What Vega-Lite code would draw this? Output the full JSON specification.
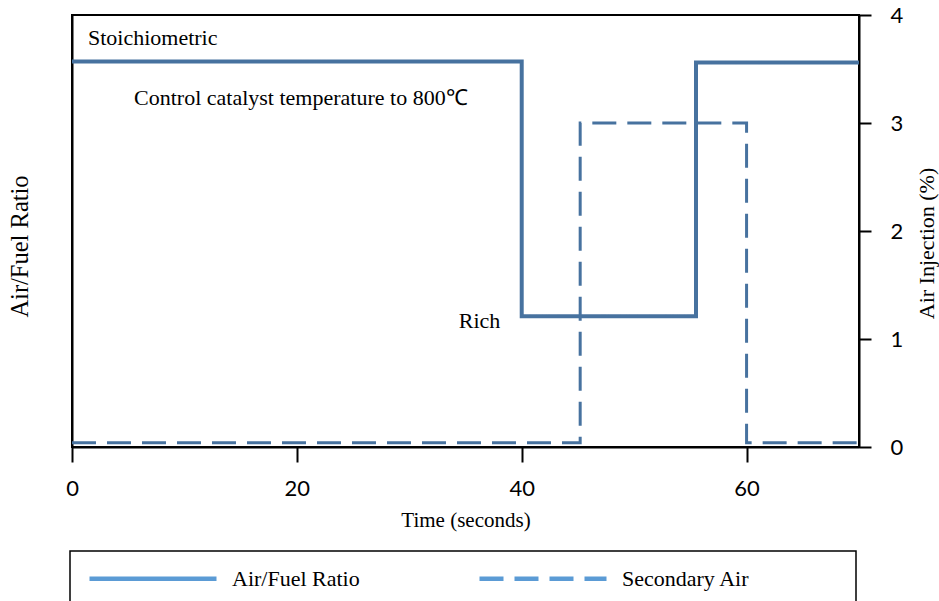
{
  "$schema": "https://vega.github.io/schema/vega-lite/v6.json",
  "width": 787,
  "height": 432,
  "autosize": {"type": "none"},
  "padding": {"left": 72, "top": 15, "right": 80, "bottom": 154},
  "background": "white",
  "config": {
    "view": {"stroke": "black", "strokeWidth": 2},
    "axis": {"domainColor": "black", "domainWidth": 2, "tickColor": "black", "tickWidth": 2, "grid": false, "labelColor": "black", "titleColor": "black", "titleFontWeight": "normal", "labelFlush": false},
    "legend": {"strokeWidth": 1.5}
  },
  "datasets": {
    "series": [
      {"series": "Air/Fuel Ratio", "i": 0, "t": 0, "v": 3.57},
      {"series": "Air/Fuel Ratio", "i": 1, "t": 40, "v": 3.57},
      {"series": "Air/Fuel Ratio", "i": 2, "t": 40, "v": 1.21},
      {"series": "Air/Fuel Ratio", "i": 3, "t": 55.5, "v": 1.21},
      {"series": "Air/Fuel Ratio", "i": 4, "t": 55.5, "v": 3.56},
      {"series": "Air/Fuel Ratio", "i": 5, "t": 70, "v": 3.56},
      {"series": "Secondary Air", "i": 0, "t": 0, "v": 0.04},
      {"series": "Secondary Air", "i": 1, "t": 45.2, "v": 0.04},
      {"series": "Secondary Air", "i": 2, "t": 45.2, "v": 3.0},
      {"series": "Secondary Air", "i": 3, "t": 60, "v": 3.0},
      {"series": "Secondary Air", "i": 4, "t": 60, "v": 0.04},
      {"series": "Secondary Air", "i": 5, "t": 70, "v": 0.04}
    ],
    "notes": [
      {"t": 1.42, "v": 3.79, "label": "Stoichiometric"},
      {"t": 5.52, "v": 3.23, "label": "Control catalyst temperature to 800℃"},
      {"t": 34.4, "v": 1.17, "label": "Rich"}
    ]
  },
  "encoding": {
    "x": {
      "field": "t", "type": "quantitative",
      "scale": {"domain": [0, 70], "nice": false, "zero": false},
      "axis": {"values": [0, 20, 40, 60], "tickSize": 15, "labelFont": "Lato", "labelFontSize": 22, "labelPadding": 16, "title": "Time (seconds)", "titleFont": "Liberation Serif", "titleFontSize": 21, "titlePadding": 10}
    }
  },
  "layer": [
    {
      "data": {"name": "series"},
      "transform": [{"filter": "datum.series === 'Air/Fuel Ratio'"}],
      "mark": {"type": "line", "strokeWidth": 4, "color": "#47729f", "strokeCap": "butt", "strokeJoin": "miter"},
      "encoding": {
        "y": {"field": "v", "type": "quantitative", "scale": {"domain": [0, 4], "nice": false},
          "axis": {"orient": "left", "ticks": false, "labels": false, "title": "Air/Fuel Ratio", "titleFont": "Liberation Serif", "titleFontSize": 24.5, "titleX": -52, "titleY": 231, "titleBaseline": "middle", "titleAlign": "center"}},
        "order": {"field": "i", "type": "quantitative"},
        "strokeDash": {"field": "series", "type": "nominal",
          "scale": {"domain": ["Air/Fuel Ratio", "Secondary Air"], "range": [[1, 0], [24, 11]]},
          "legend": {"orient": "none", "legendX": -2, "legendY": 536, "direction": "horizontal", "title": " ", "titleOrient": "right", "titlePadding": 91, "titleFontSize": 22, "symbolType": "M-0.8,0H11.9", "symbolSize": 400, "symbolStrokeWidth": 4.5, "symbolStrokeColor": "#5b9bd5", "labelFont": "Liberation Serif", "labelFontSize": 22, "labelColor": "black", "labelOffset": 122, "columnPadding": 110, "padding": 15, "strokeColor": "black"}}
      }
    },
    {
      "data": {"name": "series"},
      "transform": [{"filter": "datum.series === 'Secondary Air'"}],
      "mark": {"type": "line", "strokeWidth": 3, "color": "#47729f", "strokeCap": "butt", "strokeJoin": "miter"},
      "encoding": {
        "y": {"field": "v", "type": "quantitative", "scale": {"domain": [0, 4], "nice": false},
          "axis": {"orient": "right", "values": [0, 1, 2, 3, 4], "tickSize": 12, "labelFont": "Lato", "labelFontSize": 22, "labelPadding": 19, "title": "Air Injection (%)", "titleAngle": 270, "titleFont": "Liberation Serif", "titleFontSize": 22, "titleX": 67, "titleY": 228, "titleBaseline": "middle", "titleAlign": "center"}},
        "order": {"field": "i", "type": "quantitative"},
        "strokeDash": {"field": "series", "type": "nominal",
          "scale": {"domain": ["Air/Fuel Ratio", "Secondary Air"], "range": [[1, 0], [24, 11]]},
          "legend": {"orient": "none", "legendX": -2, "legendY": 536, "direction": "horizontal", "title": " ", "titleOrient": "right", "titlePadding": 91, "titleFontSize": 22, "symbolType": "M-0.8,0H11.9", "symbolSize": 400, "symbolStrokeWidth": 4.5, "symbolStrokeColor": "#5b9bd5", "labelFont": "Liberation Serif", "labelFontSize": 22, "labelColor": "black", "labelOffset": 122, "columnPadding": 110, "padding": 15, "strokeColor": "black"}}
      }
    },
    {
      "data": {"name": "notes"},
      "mark": {"type": "text", "align": "left", "baseline": "middle", "font": "Liberation Serif", "fontSize": 22, "color": "black"},
      "encoding": {
        "y": {"field": "v", "type": "quantitative", "scale": {"domain": [0, 4], "nice": false}, "axis": null},
        "text": {"field": "label", "type": "nominal"}
      }
    }
  ],
  "resolve": {"axis": {"y": "independent"}}
}
